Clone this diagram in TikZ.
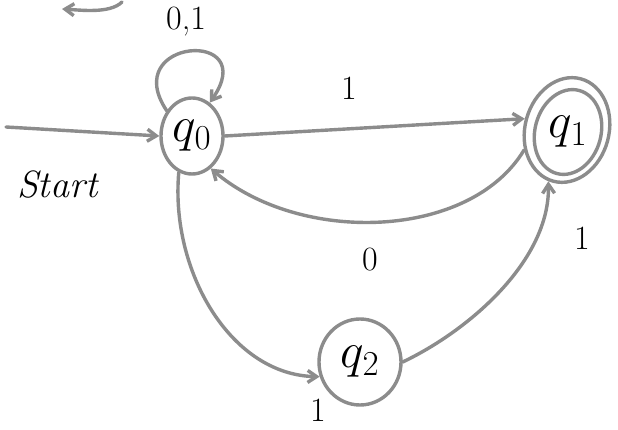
\RequirePackage{fix-cm}
\documentclass[tikz,border=0pt]{standalone}
\usetikzlibrary{arrows.meta,shapes.geometric}
\begin{document}
\begin{tikzpicture}[x=1pt,y=-1pt,
  stroke/.style={draw=black!45,line width=3.4pt,line cap=round},
  edge/.style={stroke,-{Straight Barb[length=9pt,width=12pt]}},
  state/.style={stroke,shape=ellipse,inner sep=0pt,text=black},
  qlab/.style={font=\fontsize{50}{50}\selectfont,text=black},
  lab/.style={font=\fontsize{34}{34}\selectfont,text=black}]
\useasboundingbox (0,0) rectangle (618,430);
\fill[white] (0,0) rectangle (618,430);
% states
\node[state,minimum width=62pt,minimum height=76pt] (q0) at (192,136) {};
\node[qlab] at (q0) {$q_0$};
\node[state,minimum width=84pt,minimum height=106pt,rotate=-15] (q1o) at (567,130) {};
\node[state,minimum width=66pt,minimum height=86pt,rotate=-15] (q1) at (568,132) {};
\node[qlab] at (q1) {$q_1$};
\node[state,minimum width=82pt,minimum height=86pt] (q2) at (360,362) {};
\node[qlab] at (q2) {$q_2$};
% start arrow
\coordinate (s) at (6,127);
\draw[edge] (s) -- (q0.west);
\node[font=\fontsize{38}{38}\selectfont] (start) at (58,185) {\textit{Start}};
% stray mark at top
\coordinate (m1) at (122,2);
\coordinate (m2) at (62,9);
\draw[edge] (m1) .. controls (110,14) and (80,10) .. (m2);
% self loop
\draw[edge] (q0.135) .. controls (118,38) and (262,28) .. (q0.62);
\node[lab] (l01) at (186,22) {0,1};
% q0 -> q1
\draw[edge] (q0.east) -- (q1o.west);
\node[lab] (l1a) at (349,88) {1};
% q1 -> q0
\draw[edge] (q1o.220) .. controls (470,240) and (300,245) .. (q0.300);
\node[lab] (l0) at (370,260) {0};
% q0 -> q2
\draw[edge] (q0.250) .. controls (170,270) and (230,375) .. (q2.200);
\node[lab] (l1b) at (318,410) {1};
% q2 -> q1
\draw[edge] (q2.east) .. controls (470,330) and (550,260) .. (q1o.265);
\node[lab] (l1c) at (582,238) {1};
\end{tikzpicture}
\end{document}
